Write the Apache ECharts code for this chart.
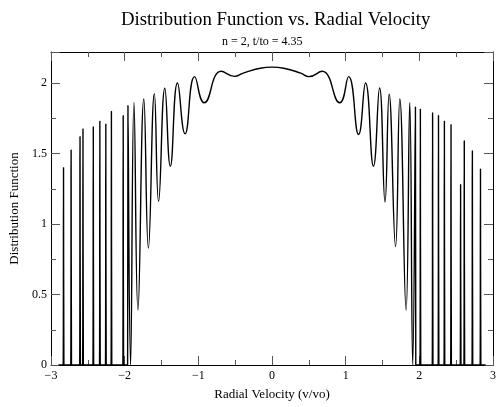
<!DOCTYPE html>
<html>
<head>
<meta charset="utf-8">
<script src="https://cdn.jsdelivr.net/npm/echarts@6/dist/echarts.min.js"></script>
<style>html,body{margin:0;padding:0;background:#fff}#chart{width:499px;height:407px}</style>
</head>
<body>
<div id="chart"></div>
<script>
// Radial velocity (v/vo) points
var velocity = [
  -2.9,
  -2.835, -2.83, -2.825,
  -2.732, -2.727, -2.722,
  -2.611, -2.606, -2.601,
  -2.571, -2.566, -2.561,
  -2.431, -2.426, -2.421,
  -2.342, -2.337, -2.332,
  -2.261, -2.256, -2.251,
  -2.185, -2.18, -2.175,
  -2.025, -2.02, -2.015,
  -1.96, -1.955, -1.92,
  -1.874, -1.82, -1.74, -1.678, -1.597, -1.54, -1.455, -1.38, -1.283, -1.18, -1.05, -0.92,
  -0.69, -0.51, -0.39, -0.16, 0, 0.16, 0.39, 0.5,
  0.68, 0.92, 1.04, 1.175, 1.27, 1.377, 1.46, 1.534, 1.59, 1.677, 1.735, 1.82, 1.87,
  1.91, 1.947, 1.952,
  2.009, 2.014, 2.019,
  2.175, 2.18, 2.185,
  2.255, 2.26, 2.265,
  2.335, 2.34, 2.345,
  2.425, 2.43, 2.435,
  2.555, 2.56, 2.565,
  2.605, 2.61, 2.615,
  2.715, 2.72, 2.725,
  2.825, 2.83, 2.835,
  2.9
];
// Distribution function values
var distribution = [
  0,
  0, 1.40, 0,
  0, 1.525, 0,
  0, 1.62, 0,
  0, 1.675, 0,
  0, 1.69, 0,
  0, 1.73, 0,
  0, 1.71, 0,
  0, 1.80, 0,
  0, 1.77, 0,
  0, 1.84, 0,
  1.863, 0.39, 1.887, 0.83, 1.925, 1.16, 1.963, 1.41, 2.0, 1.64, 2.045, 1.86,
  2.083, 2.047, 2.07, 2.105, 2.113, 2.105, 2.07, 2.045,
  2.083, 1.86, 2.045, 1.635, 2.0, 1.41, 1.965, 1.156, 1.92, 0.84, 1.887, 0.39, 1.86,
  0, 1.83, 0,
  0, 1.815, 0,
  0, 1.79, 0,
  0, 1.77, 0,
  0, 1.73, 0,
  0, 1.705, 0,
  0, 1.28, 0,
  0, 1.59, 0,
  0, 1.52, 0,
  0, 1.39, 0,
  0
];
var xTicks = [-3, -2, -1, 0, 1, 2, 3];
var yTicks = [0, 0.5, 1, 1.5, 2];

var points = velocity.map(function (v, i) { return [v, distribution[i]]; });
var serif = 'Liberation Serif';
var chart = echarts.init(document.getElementById('chart'), null, {renderer: 'canvas'});
var axisCommon = {
  axisLine: {show: true, onZero: false, lineStyle: {color: '#000', width: 1}},
  axisTick: {show: true, inside: true, length: 9, lineStyle: {color: '#555', width: 1}},
  minorTick: {show: true, splitNumber: 2, length: 5, lineStyle: {color: '#555', width: 1}},
  splitLine: {show: false},
  minorSplitLine: {show: false}
};
chart.setOption({
  animation: false,
  backgroundColor: '#fff',
  title: [
    {text: 'Distribution Function vs. Radial Velocity', left: 116, top: 6,
     textStyle: {fontFamily: serif, fontSize: 18.8, fontWeight: 'normal', color: '#000'}},
    {text: 'n = 2, t/to = 4.35', left: 217, top: 31,
     textStyle: {fontFamily: serif, fontSize: 12, fontWeight: 'normal', color: '#000'}}
  ],
  grid: {left: 50, right: 3.5, top: 52, bottom: 42, containLabel: false},
  xAxis: [
    Object.assign({}, axisCommon, {
      type: 'value', min: xTicks[0], max: xTicks[xTicks.length - 1], interval: 1,
      name: 'Radial Velocity (v/vo)', nameLocation: 'middle', nameGap: 23,
      nameTextStyle: {fontFamily: serif, fontSize: 13, color: '#000'},
      axisLabel: {fontFamily: serif, fontSize: 12, color: '#000', margin: 5,
                  formatter: function (v) { return v < 0 ? '\u2212' + Math.abs(v) : String(v); }}
    }),
    Object.assign({}, axisCommon, {
      type: 'value', position: 'top', min: xTicks[0], max: xTicks[xTicks.length - 1], interval: 1,
      axisLabel: {show: false}
    })
  ],
  yAxis: [
    Object.assign({}, axisCommon, {
      type: 'value', min: yTicks[0], max: 2.22, interval: 0.5,
      name: 'Distribution Function', nameLocation: 'middle', nameGap: 30,
      nameTextStyle: {fontFamily: serif, fontSize: 13, color: '#000'},
      axisLabel: {fontFamily: serif, fontSize: 12, color: '#000', margin: 4, showMaxLabel: false}
    }),
    Object.assign({}, axisCommon, {
      type: 'value', position: 'right', min: yTicks[0], max: 2.22, interval: 0.5,
      axisLabel: {show: false}
    })
  ],
  series: [{
    type: 'line',
    data: points,
    xAxisIndex: 0,
    yAxisIndex: 0,
    smooth: true,
    showSymbol: false,
    clip: true,
    lineStyle: {color: '#000', width: 1.4}
  }]
});
</script>
</body>
</html>
